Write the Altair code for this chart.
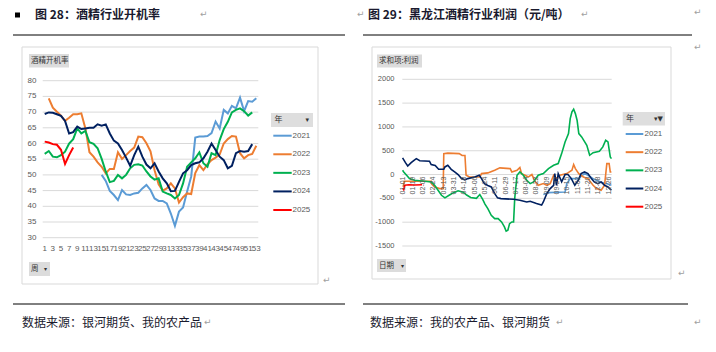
import altair as alt
import pandas as pd

# ---------------- data ----------------
years = ["2021", "2022", "2023", "2024", "2025"]
colors = ["#5B9BD5", "#ED7D31", "#00B050", "#002060", "#FF0000"]

weeks = list(range(1, 54))
rate_2021 = [None] * 14 + [50.0, 48.1, 44.9, 43.6, 42.0, 45.2, 43.8, 43.6, 44.1, 44.3, 45.7, 46.8,
                           45.2, 42.5, 41.7, 41.7, 40.9, 37.7, 33.8, 38.3, 39.6, 44.7, 49.5, 61.9,
                           62.2, 62.2, 62.4, 63.3, 67.0, 64.8, 70.7, 69.6, 72.0, 71.2, 74.6, 70.3,
                           73.5, 73.3, 74.4]
rate_2022 = [None, 74.4, 71.4, 70.1, 68.9, 67.2, 68.2, 69.3, 69.3, 69.6, 64.8, 57.2, 55.8, 54.0,
             52.6, 50.5, 51.9, 51.9, 57.2, 55.1, 56.3, 57.6, 58.7, 62.2, 62.0, 60.1, 57.5, 51.5,
             47.0, 45.0, 45.7, 47.3, 45.7, 41.2, 42.9, 44.1, 43.9, 50.6, 53.1, 51.5, 53.4, 54.7,
             55.5, 56.5, 60.0, 61.4, 62.4, 62.2, 56.9, 55.3, 56.3, 56.7, 59.3]
rate_2023 = [56.7, 57.6, 55.8, 55.6, 56.3, 57.4, 60.0, 61.4, 64.8, 63.2, 64.0, 60.4, 59.9, 58.5,
             55.1, 51.1, 47.7, 48.1, 50.0, 48.9, 50.0, 52.1, 53.2, 53.4, 53.0, 51.1, 49.5, 48.5,
             48.9, 44.7, 44.1, 43.6, 42.5, 43.6, 47.3, 52.6, 54.0, 55.3, 57.2, 53.7, 52.6, 56.9,
             56.3, 61.1, 64.6, 66.9, 69.9, 70.7, 71.2, 70.3, 68.9, 69.9, None]
rate_2024 = [69.4, 69.9, 69.8, 69.3, 68.8, 67.2, 63.2, 63.6, 65.4, 64.6, 64.8, 65.0, 65.0, 66.1,
             65.7, 66.1, 63.2, 60.9, 60.0, 57.9, 55.5, 52.9, 56.3, 59.0, 55.8, 53.3, 52.1, 53.7,
             51.1, 48.9, 47.3, 44.8, 44.9, 47.8, 50.5, 51.5, 53.1, 53.7, 54.0, 55.3, 57.4, 60.0,
             57.9, 55.8, 54.7, 52.1, 52.9, 56.9, 57.6, 57.4, 57.6, 59.8, None]
rate_2025 = [60.6, 60.3, 59.8, 59.6, 58.0, 53.5, 56.3, 58.7] + [None] * 45
rate_ticks = [30, 35, 40, 45, 50, 55, 60, 65, 70, 75, 80]
week_ticks = list(range(1, 54, 2))

# Heilongjiang profit (yuan/ton), read at change points
p2021_dates = ["09-03", "09-12", "10-11", "10-14", "10-20", "11-04", "11-07", "11-14", "11-20",
               "12-01", "12-13", "12-25", "12-31"]
p2021_vals = [-420, -380, -365, -190, -85, -85, -50, 20, -15, -100, -160, -200, -225]
p2022_dates = ["01-02", "01-04", "02-20", "02-21", "02-26", "03-06", "03-12", "03-13", "03-20",
               "04-09", "04-14", "04-19", "04-21", "04-27", "05-15", "05-18", "05-29", "06-10",
               "06-19", "07-07", "07-10", "07-19", "07-24", "07-27", "08-02", "08-08", "08-14",
               "08-20", "08-25", "09-03", "09-09", "09-15", "09-21", "09-26", "10-02", "10-14",
               "10-23", "10-26", "10-29", "11-04", "11-12", "11-20", "11-29", "12-05", "12-13",
               "12-19", "12-23", "12-27", "12-29", "12-31"]
p2022_vals = [-260, -140, -140, -200, -260, -295, -295, 440, 450, 440, 400, 400, -15, -50, -50,
              20, 35, 90, 140, 125, 55, 90, 150, 20, -15, -50, 0, -155, -225, -190, -225, -190,
              -15, -85, -15, 20, 90, 210, 125, 20, -50, -85, -225, -295, -330, -225, 230, 230,
              55, 55]
p2023_dates = ["01-01", "01-03", "01-08", "01-13", "01-22", "02-09", "02-20", "02-26", "03-03",
               "03-09", "03-15", "03-23", "03-30", "04-07", "04-16", "04-22", "04-29", "05-09",
               "05-15", "05-20", "05-24", "05-29", "06-04", "06-10", "06-16", "06-22", "06-27",
               "06-30", "07-03", "07-06", "07-10", "07-13", "07-15", "07-19", "07-24", "07-30",
               "08-05", "08-11", "08-17", "08-25", "09-03", "09-12", "09-21", "09-29", "10-05",
               "10-11", "10-17", "10-20", "10-23", "10-26", "10-29", "11-01", "11-04", "11-09",
               "11-18", "11-23", "11-29", "12-10", "12-16", "12-21", "12-25", "12-29", "12-31"]
p2023_vals = [90, 55, -15, -85, -120, -140, -155, -225, -330, -435, -490, -430, -380, -340, -370,
              -430, -480, -500, -420, -520, -620, -715, -855, -925, -925, -995, -1100, -1190,
              -1170, -1030, -995, -995, -500, -15, 55, -15, -120, -190, -155, -15, 20, 125, 195,
              230, 440, 685, 860, 1175, 1315, 1370, 1280, 1140, 860, 790, 615, 405, 460, 490,
              580, 720, 685, 370, 335]
p2024_dates = ["01-01", "01-06", "01-10", "01-16", "01-21", "01-25", "01-31", "02-17", "02-20",
               "02-27", "03-04", "03-13", "03-15", "03-20", "03-26", "04-01", "04-07", "04-13",
               "04-19", "04-24", "05-06", "05-14", "05-18", "05-23", "05-29", "06-04", "06-10",
               "06-15", "06-21", "07-13", "07-24", "08-05", "08-11", "08-22", "08-31", "09-03",
               "09-09", "09-15", "09-21", "09-23", "09-26", "09-29", "10-05", "10-11", "10-16",
               "10-22", "10-28", "11-03", "11-08", "11-14", "11-20", "11-26", "12-01", "12-07",
               "12-13", "12-19", "12-25", "12-31"]
p2024_vals = [350, 250, 180, 250, 300, 335, 290, 280, 210, 190, 110, 110, 160, 195, 110, 55, 0,
              -85, -110, -85, -50, -15, -85, -190, -230, -260, -400, -490, -505, -520, -540, -575,
              -560, -610, -640, -575, -400, -295, -225, 20, -225, 20, -150, 0, 0, -85, -225, -120,
              20, 55, 20, -85, -155, -190, -155, -225, -260, -330]
p2025_dates = ["01-01", "01-03", "01-05", "01-12", "01-22", "02-04"]
p2025_vals = [-290, -320, -225, -215, -220, -215]
profit_ticks = [-1500, -1000, -500, 0, 500, 1000, 1500, 2000]
date_ticks = ["01-01", "01-19", "02-06", "02-24", "03-13", "03-31", "04-18", "05-06", "05-24",
              "06-11", "06-29", "07-17", "08-04", "08-22", "09-09", "09-27", "10-15", "11-02",
              "11-20", "12-08", "12-26"]

# ---------------- tables ----------------
rates = dict(zip(years, [rate_2021, rate_2022, rate_2023, rate_2024, rate_2025]))
left_df = pd.DataFrame([{"year": y, "week": w, "rate": v}
                        for y in years for w, v in zip(weeks, rates[y]) if v is not None])


def doy(md):
    return int(pd.Timestamp("2024-" + md).dayofyear)


prof = {"2021": (p2021_dates, p2021_vals), "2022": (p2022_dates, p2022_vals),
        "2023": (p2023_dates, p2023_vals), "2024": (p2024_dates, p2024_vals),
        "2025": (p2025_dates, p2025_vals)}
right_df = pd.DataFrame([{"year": y, "day": doy(d), "profit": v}
                         for y in years for d, v in zip(*prof[y])])

ONE = alt.Data(values=[{}])
NUMFONT = "Liberation Sans"
CJK = "Noto Sans CJK SC"
LABEL = "#595959"
GRID = "#D9D9D9"

LX = alt.Scale(domain=[1, 53], range=[44.7, 256.3], nice=False, zero=False)
LY = alt.Scale(domain=[30, 80], range=[237.7, 80.7], nice=False, zero=False)
RX = alt.Scale(domain=[0.5, 366.5], range=[402.3, 611.7], nice=False, zero=False)
RY = alt.Scale(domain=[-1500, 2000], range=[246, 79.3], nice=False, zero=False)
CS = alt.Scale(domain=years, range=colors)


def text_at(s, x, y, size=9, color="#333333", font=CJK, weight="normal", align="left"):
    return alt.Chart(ONE).mark_text(text=s, fontSize=size, color=color, font=font,
                                    fontWeight=weight, align=align, baseline="middle").encode(
        x=alt.value(x), y=alt.value(y))


def rect_at(x1, x2, y1, y2, fill, stroke=None):
    kw = dict(fill=fill)
    if stroke:
        kw.update(stroke=stroke, strokeWidth=1)
    return alt.Chart(ONE).mark_rect(**kw).encode(
        x=alt.value(x1), x2=alt.value(x2), y=alt.value(y1), y2=alt.value(y2))


def hline(x1, x2, y, color="#000000", w=1.0):
    return alt.Chart(ONE).mark_rule(color=color, strokeWidth=w).encode(
        x=alt.value(x1), x2=alt.value(x2), y=alt.value(y))


layers = []
# frames
layers.append(rect_at(22, 318, 47, 284, "#FFFFFF", GRID))
layers.append(rect_at(372, 671, 47, 279, "#FFFFFF", GRID))

# ---- left panel ----
layers.append(alt.Chart(pd.DataFrame({"v": rate_ticks})).mark_rule(color=GRID, strokeWidth=1).encode(
    y=alt.Y("v:Q", scale=LY, axis=None), x=alt.value(42.7), x2=alt.value(258.3)))
layers.append(alt.Chart(left_df).mark_line(strokeWidth=2).encode(
    x=alt.X("week:Q", scale=LX, axis=None),
    y=alt.Y("rate:Q", scale=LY, axis=None),
    color=alt.Color("year:N", scale=CS, legend=None),
    order="week:Q"))
layers.append(alt.Chart(pd.DataFrame({"v": rate_ticks, "lab": [str(t) for t in rate_ticks]})).mark_text(
    align="right", baseline="middle", fontSize=8, color=LABEL, font=NUMFONT).encode(
    y=alt.Y("v:Q", scale=LY, axis=None), x=alt.value(36.5), text="lab:N"))
layers.append(alt.Chart(pd.DataFrame({"w": week_ticks, "lab": [str(t) for t in week_ticks]})).mark_text(
    align="center", baseline="middle", fontSize=8, color=LABEL, font=NUMFONT).encode(
    x=alt.X("w:Q", scale=LX, axis=None), y=alt.value(248.5), text="lab:N"))
# legend
LL = alt.Scale(type="point", domain=years, range=[135.7, 210], padding=0)
leg = pd.DataFrame({"year": years})
layers.append(rect_at(271, 313, 113, 127, "#DEDEDE"))
layers.append(text_at("年", 274.5, 120, size=8))
layers.append(text_at("▾", 309, 120, size=7, font="DejaVu Sans", align="right"))
layers.append(alt.Chart(leg).mark_rule(strokeWidth=2).encode(
    y=alt.Y("year:N", scale=LL, axis=None), x=alt.value(273.3), x2=alt.value(291.7),
    color=alt.Color("year:N", scale=CS, legend=None)))
layers.append(alt.Chart(leg).mark_text(align="left", baseline="middle", fontSize=8, color=LABEL,
                                       font=NUMFONT).encode(
    y=alt.Y("year:N", scale=LL, axis=None), x=alt.value(292.5), text="year:N"))
# buttons
layers.append(rect_at(29, 69, 54, 67.5, "#DCDCDC"))
layers.append(text_at("酒精开机率", 31, 61, size=7.5))
layers.append(rect_at(29, 50, 262, 276, "#DCDCDC"))
layers.append(text_at("周", 31, 269, size=7.5))
layers.append(text_at("▾", 47, 269, size=6, font="DejaVu Sans", align="right"))

# ---- right panel ----
layers.append(alt.Chart(pd.DataFrame({"v": profit_ticks})).mark_rule(color=GRID, strokeWidth=1).encode(
    y=alt.Y("v:Q", scale=RY, axis=None), x=alt.value(402.3), x2=alt.value(611.7)))
layers.append(alt.Chart(right_df).mark_line(strokeWidth=1.6).encode(
    x=alt.X("day:Q", scale=RX, axis=None),
    y=alt.Y("profit:Q", scale=RY, axis=None),
    color=alt.Color("year:N", scale=CS, legend=None),
    order="day:Q"))
layers.append(alt.Chart(pd.DataFrame({"v": profit_ticks, "lab": [str(t) for t in profit_ticks]})).mark_text(
    align="right", baseline="middle", fontSize=7.5, color=LABEL, font=NUMFONT).encode(
    y=alt.Y("v:Q", scale=RY, axis=None), x=alt.value(394.5), text="lab:N"))
layers.append(alt.Chart(pd.DataFrame({"d": [doy(m) for m in date_ticks], "lab": date_ticks})).mark_text(
    align="right", baseline="middle", angle=270, fontSize=7, color=LABEL, font=NUMFONT).encode(
    x=alt.X("d:Q", scale=RX, axis=None), y=alt.value(176.5), text="lab:N"))
RL = alt.Scale(type="point", domain=years, range=[134, 206.7], padding=0)
layers.append(rect_at(622.7, 665, 112, 125.5, "#DEDEDE"))
layers.append(text_at("年", 626, 119, size=8))
layers.append(text_at("▾▼", 663, 119, size=7, font="DejaVu Sans", align="right"))
layers.append(alt.Chart(leg).mark_rule(strokeWidth=2).encode(
    y=alt.Y("year:N", scale=RL, axis=None), x=alt.value(625.7), x2=alt.value(643.3),
    color=alt.Color("year:N", scale=CS, legend=None)))
layers.append(alt.Chart(leg).mark_text(align="left", baseline="middle", fontSize=8, color=LABEL,
                                       font=NUMFONT).encode(
    y=alt.Y("year:N", scale=RL, axis=None), x=alt.value(644.5), text="year:N"))
layers.append(rect_at(377, 422, 54.5, 67.5, "#DCDCDC"))
layers.append(text_at("求和项:利润", 379, 61, size=7.5))
layers.append(rect_at(377, 406, 259, 272, "#DCDCDC"))
layers.append(text_at("日期", 379, 265.5, size=7.5))
layers.append(text_at("▾", 404, 265.5, size=6, font="DejaVu Sans", align="right"))

# ---- document text ----
layers.append(rect_at(15, 20, 12.5, 17.5, "#000000"))
layers.append(text_at("图 28：酒精行业开机率", 35, 15, size=12, color="#1A1A2E", weight="bold"))
layers.append(text_at("图 29：黑龙江酒精行业利润（元/吨）", 368, 15, size=12, color="#1A1A2E", weight="bold"))
layers.append(hline(13, 345, 35))
layers.append(hline(363, 692, 35))
layers.append(hline(13, 345, 304))
layers.append(hline(363, 688, 304))
layers.append(text_at("数据来源：银河期货、我的农产品", 22, 323, size=12, color="#1A1A2E"))
layers.append(text_at("数据来源：我的农产品、银河期货", 370, 323, size=12, color="#1A1A2E"))
for (ax, ay) in [(200, 14), (357, 14), (581, 14), (694, 12), (694, 47), (204, 322), (556, 322),
                 (323, 280), (678, 273), (694, 322)]:
    layers.append(text_at("↵", ax, ay, size=9, color="#A0A0A0", font="DejaVu Sans"))

chart = alt.layer(*layers).resolve_scale(
    x="independent", y="independent", color="independent"
).properties(
    width=716, height=352, autosize=alt.AutoSizeParams(type="none"), padding=0, background="#FFFFFF"
).configure_view(stroke=None)

chart.save("out.html", embed_options={"renderer": "svg", "actions": False})
